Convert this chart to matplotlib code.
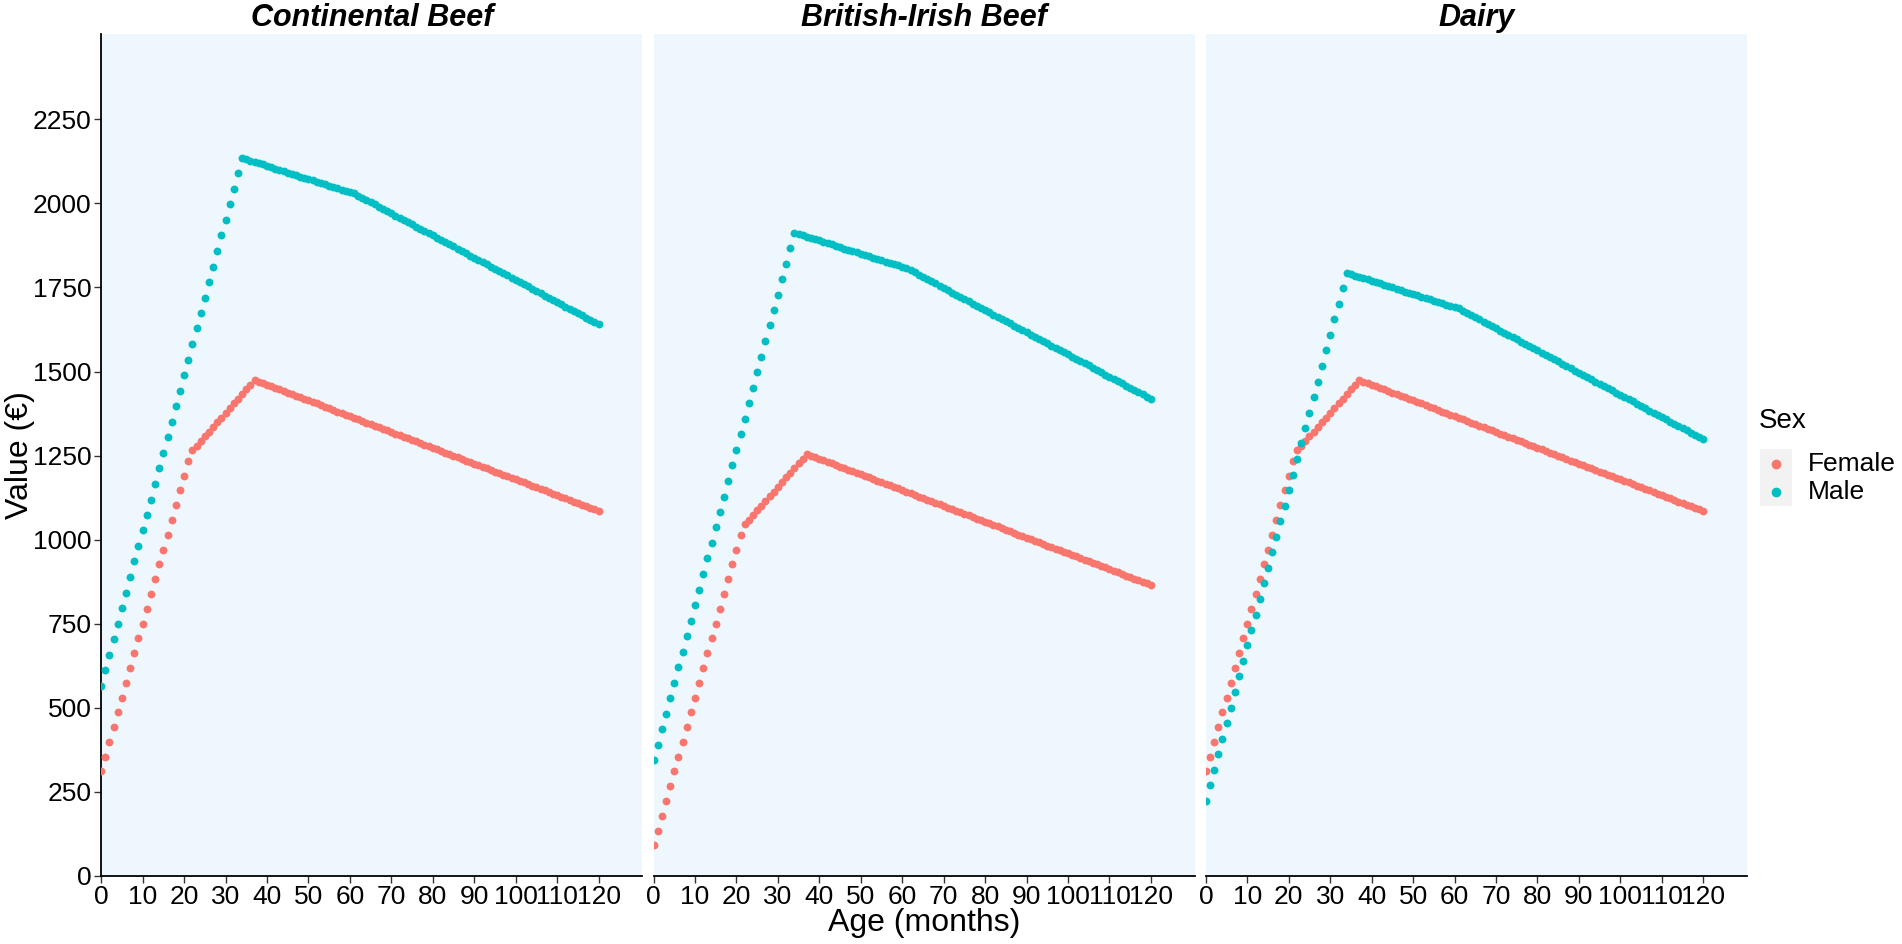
# External Dependencies
import numpy as np
import matplotlib as mpl
mpl.use('Agg')
import matplotlib.pyplot as plt
from matplotlib.lines import Line2D
from matplotlib.patches import Rectangle

plt.rcParams['font.family'] = ['Liberation Sans', 'DejaVu Sans']

# Values, one point per month (0..120)
ages = list(range(0, 121))

cont_female = [310, 354, 398, 442, 486, 530, 574, 618, 662, 706, 750, 794, 838, 882, 926, 970, 1014, 1058, 1102, 1146, 1190, 1234,
               1265, 1279, 1293, 1307, 1321, 1335, 1349, 1363, 1377, 1391, 1405, 1419, 1433, 1447, 1461, 1475,
               1470, 1466, 1461, 1456, 1452, 1447, 1442, 1437, 1433, 1428, 1423, 1419, 1414, 1409, 1405, 1400, 1395, 1390,
               1386, 1381, 1376, 1372, 1367, 1362, 1358, 1353, 1348, 1343, 1339, 1334, 1329, 1325, 1320, 1315, 1311, 1306,
               1301, 1296, 1292, 1287, 1282, 1278, 1273, 1268, 1264, 1259, 1254, 1249, 1245, 1240, 1235, 1231, 1226, 1221,
               1217, 1212, 1207, 1202, 1198, 1193, 1188, 1184, 1179, 1174, 1170, 1165, 1160, 1155, 1151, 1146, 1141, 1137,
               1132, 1127, 1123, 1118, 1113, 1108, 1104, 1099, 1094, 1090, 1085]

cont_male = [565, 611, 657, 704, 750, 796, 842, 888, 935, 981, 1027, 1073, 1119, 1166, 1212, 1258, 1304, 1350, 1397, 1443,
             1489, 1535, 1581, 1628, 1674, 1720, 1766, 1812, 1859, 1905, 1951, 1997, 2043, 2090, 2135,
             2131, 2127, 2123, 2119, 2116, 2112, 2108, 2104, 2100, 2096, 2092, 2088, 2084, 2080, 2077, 2073, 2069, 2065,
             2061, 2057, 2053, 2049, 2045, 2041, 2038, 2034, 2030,
             2023, 2017, 2010, 2004, 1997, 1990, 1984, 1977, 1971, 1964, 1957, 1951, 1944, 1938, 1931, 1924, 1918, 1911,
             1905, 1898, 1891, 1885, 1878, 1872, 1865, 1858, 1852, 1845, 1839, 1832, 1825, 1819, 1812, 1806, 1799, 1792,
             1786, 1779, 1773, 1766, 1759, 1753, 1746, 1740, 1733, 1726, 1720, 1713, 1707, 1700, 1693, 1687, 1680, 1674,
             1667, 1660, 1654, 1647, 1641]

bi_female = [90, 134, 178, 222, 266, 310, 354, 398, 442, 486, 530, 574, 618, 662, 706, 750, 794, 838, 882, 926, 970, 1014,
             1045, 1059, 1073, 1087, 1101, 1115, 1129, 1143, 1157, 1171, 1185, 1199, 1213, 1227, 1241, 1255,
             1250, 1246, 1241, 1236, 1232, 1227, 1222, 1217, 1213, 1208, 1203, 1199, 1194, 1189, 1185, 1180, 1175, 1170,
             1166, 1161, 1156, 1152, 1147, 1142, 1138, 1133, 1128, 1123, 1119, 1114, 1109, 1105, 1100, 1095, 1091, 1086,
             1081, 1076, 1072, 1067, 1062, 1058, 1053, 1048, 1044, 1039, 1034, 1029, 1025, 1020, 1015, 1011, 1006, 1001,
             997, 992, 987, 982, 978, 973, 968, 964, 959, 954, 950, 945, 940, 935, 931, 926, 921, 917,
             912, 907, 903, 898, 893, 888, 884, 879, 874, 870, 865]

bi_male = [343, 389, 435, 482, 528, 574, 620, 666, 713, 759, 805, 851, 897, 944, 990, 1036, 1082, 1128, 1175, 1221,
           1267, 1313, 1359, 1406, 1452, 1498, 1544, 1590, 1637, 1683, 1729, 1775, 1821, 1868, 1913,
           1909, 1905, 1901, 1897, 1894, 1890, 1886, 1882, 1878, 1874, 1870, 1866, 1862, 1858, 1855, 1851, 1847, 1843,
           1839, 1835, 1831, 1827, 1823, 1819, 1816, 1812, 1808,
           1801, 1795, 1788, 1782, 1775, 1768, 1762, 1755, 1749, 1742, 1735, 1729, 1722, 1716, 1709, 1702, 1696, 1689,
           1683, 1676, 1669, 1663, 1656, 1650, 1643, 1636, 1630, 1623, 1617, 1610, 1603, 1597, 1590, 1584, 1577, 1570,
           1564, 1557, 1551, 1544, 1537, 1531, 1524, 1518, 1511, 1504, 1498, 1491, 1485, 1478, 1471, 1465, 1458, 1452,
           1445, 1438, 1432, 1425, 1419]

# dairy heifers follow the same curve as continental ones
dairy_female = list(cont_female)

dairy_male = [223, 269, 315, 362, 408, 454, 500, 546, 593, 639, 685, 731, 777, 824, 870, 916, 962, 1008, 1055, 1101,
              1147, 1193, 1239, 1286, 1332, 1378, 1424, 1470, 1517, 1563, 1609, 1655, 1701, 1748, 1793,
              1789, 1785, 1781, 1777, 1774, 1770, 1766, 1762, 1758, 1754, 1750, 1746, 1742, 1738, 1735, 1731, 1727, 1723,
              1719, 1715, 1711, 1707, 1703, 1699, 1696, 1692, 1688,
              1681, 1675, 1668, 1662, 1655, 1648, 1642, 1635, 1629, 1622, 1615, 1609, 1602, 1596, 1589, 1582, 1576, 1569,
              1563, 1556, 1549, 1543, 1536, 1530, 1523, 1516, 1510, 1503, 1497, 1490, 1483, 1477, 1470, 1464, 1457, 1450,
              1444, 1437, 1431, 1424, 1417, 1411, 1404, 1398, 1391, 1384, 1378, 1371, 1365, 1358, 1351, 1345, 1338, 1332,
              1325, 1318, 1312, 1305, 1299]

panels = ['Continental Beef', 'British-Irish Beef', 'Dairy']
female_series = [cont_female, bi_female, dairy_female]
male_series = [cont_male, bi_male, dairy_male]
sexes = ['Female', 'Male']
x_ticks = list(range(0, 121, 10))
y_ticks = list(range(0, 2251, 250))

FEMALE_COL = '#F8766D'
MALE_COL = '#00BFC4'
PANEL_BG = '#EEF7FD'


def drawPanel(ax, female, male, first):
    ax.set_facecolor(PANEL_BG)
    ax.scatter(ages, female, s=32, color=FEMALE_COL, linewidths=0, zorder=3)
    ax.scatter(ages, male, s=32, color=MALE_COL, linewidths=0, zorder=3)
    ax.set_xlim(0, 130.6)
    ax.set_ylim(0, 2504)
    ax.set_xticks(x_ticks)
    ax.set_xticklabels([str(t) for t in x_ticks], fontsize=19)
    ax.set_yticks(y_ticks)
    for s in ['top', 'right']:
        ax.spines[s].set_visible(False)
    ax.spines['bottom'].set_color('black')
    ax.spines['bottom'].set_linewidth(1.3)
    if first:
        ax.set_yticklabels([str(t) for t in y_ticks], fontsize=19)
        ax.spines['left'].set_color('black')
        ax.spines['left'].set_linewidth(1.3)
    else:
        ax.spines['left'].set_visible(False)
        ax.tick_params(axis='y', left=False, labelleft=False)
    ax.tick_params(axis='both', length=5, width=1.0, color='#333333', pad=2)


def main():
    fig = plt.figure(figsize=(19.02, 9.44), dpi=100)
    lefts = [0.0532, 0.3436, 0.6340]
    width = 0.2846
    bottom, height = 0.0724, 0.8915

    for i, name in enumerate(panels):
        ax = fig.add_axes([lefts[i], bottom, width, height])
        drawPanel(ax, female_series[i], male_series[i], i == 0)
        # facet strip title
        fig.text(lefts[i] + width / 2, 0.981, name, ha='center', va='center',
                 fontsize=22, fontweight='bold', style='italic')

    # Axis titles
    fig.text(0.486, 0.022, 'Age (months)', ha='center', va='center', fontsize=23)
    fig.text(0.0105, 0.518, 'Value (€)', ha='center', va='center', rotation=90, fontsize=23)

    # Legend drawn by hand to mimic the ggplot guide
    fig.text(0.9245, 0.554, 'Sex', ha='left', va='center', fontsize=20)
    cols = [FEMALE_COL, MALE_COL]
    for k, lab in enumerate(sexes):
        yc = 0.509 - k * 0.030
        fig.add_artist(Rectangle((0.9255, yc - 0.015), 0.0165, 0.030, transform=fig.transFigure,
                                 facecolor='#F2F2F2', edgecolor='none'))
        fig.add_artist(Line2D([0.93375], [yc], transform=fig.transFigure, marker='o', markersize=6,
                              color=cols[k], linestyle='none'))
        fig.text(0.9505, yc, lab, ha='left', va='center', fontsize=19)

    fig.savefig('out.png', dpi=100)


if __name__ == '__main__':
    main()
